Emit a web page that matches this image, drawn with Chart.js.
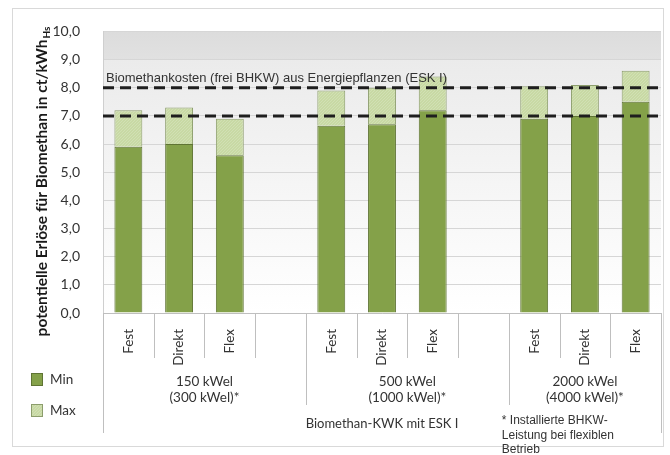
<!DOCTYPE html>
<html>
<head>
<meta charset="utf-8">
<script src="https://cdn.jsdelivr.net/npm/chart.js@4/dist/chart.umd.min.js"></script>
<style>
  html, body { margin: 0; padding: 0; background: #fff; }
  #wrap { width: 670px; height: 455px; }
</style>
</head>
<body>
<div id="wrap"><canvas id="chartErloese" width="670" height="455"></canvas></div>
<script>
// Daten
const kategorien = ["Fest", "Direkt", "Flex", "", "Fest", "Direkt", "Flex", "", "Fest", "Direkt", "Flex"];
const minWerte = [5.9, 6.0, 5.6, null, 6.65, 6.7, 7.2, null, 6.9, 7.0, 7.5];
const maxWerte = [7.2, 7.3, 6.9, null, 7.9, 8.0, 8.4, null, 8.05, 8.1, 8.6];
const gruppen = [
  { zeilen: ["150 kWel", "(300 kWel)*"], von: 0, bis: 3 },
  { zeilen: ["500 kWel", "(1000 kWel)*"], von: 4, bis: 7 },
  { zeilen: ["2000 kWel", "(4000 kWel)*"], von: 8, bis: 10 },
];
const kostenLinien = [7.0, 8.0];
const kostenText = "Biomethankosten (frei BHKW) aus Energiepflanzen (ESK I)";
const fussnote = ["* Installierte BHKW-", "Leistung bei flexiblen", "Betrieb"];
const obergruppe = "Biomethan-KWK mit ESK I";

const GRUEN = "#84a149";
const GRUEN_RAND = "#5f7434";
const HELL = "#c8d9a4";
const HELL_RAND = "#8c9d6c";

// Schraffur fuer Max (dezent)
const musterCanvas = document.createElement("canvas");
musterCanvas.width = 3;
musterCanvas.height = 3;
const mctx = musterCanvas.getContext("2d");
mctx.fillStyle = HELL;
mctx.fillRect(0, 0, 3, 3);
mctx.fillStyle = "#d1e0b4";
for (let i = 0; i < 3; i++) mctx.fillRect(i, 2 - i, 1, 1);
const muster = mctx.createPattern(musterCanvas, "repeat");

const canvas = document.getElementById("chartErloese");
const context = canvas.getContext("2d");

const grenze = (xs, i) => {
  const schritt = xs.getPixelForValue(1) - xs.getPixelForValue(0);
  return xs.getPixelForValue(0) + (i - 0.5) * schritt;
};

const hintergrund = {
  id: "hintergrund",
  beforeDraw(chart) {
    const { ctx, chartArea: a } = chart;
    ctx.save();
    ctx.fillStyle = "#fff";
    ctx.fillRect(0, 0, chart.width, chart.height);
    ctx.strokeStyle = "#d9d9d9";
    ctx.lineWidth = 1;
    ctx.strokeRect(12.5, 8.5, 651, 438);
    const g = ctx.createLinearGradient(0, a.top, 0, a.bottom);
    g.addColorStop(0, "#dcdcdc");
    g.addColorStop(0.1, "#e1e1e1");
    g.addColorStop(0.1, "#ebebeb");
    g.addColorStop(0.85, "#fcfcfc");
    g.addColorStop(1, "#ffffff");
    ctx.fillStyle = g;
    ctx.fillRect(a.left, a.top, a.right - a.left, a.bottom - a.top);
    ctx.restore();
  },
};

const beschriftung = {
  id: "beschriftung",
  afterDatasetsDraw(chart) {
    const { ctx, chartArea: a, scales } = chart;
    const xs = scales.x;
    const ys = scales.y;
    ctx.save();

    // gestrichelte Kostenlinien
    ctx.strokeStyle = "#1e1e1e";
    ctx.lineWidth = 3;
    ctx.setLineDash([11, 6]);
    kostenLinien.forEach((v) => {
      const y = ys.getPixelForValue(v);
      ctx.beginPath();
      ctx.moveTo(a.left, y);
      ctx.lineTo(a.right, y);
      ctx.stroke();
    });
    ctx.setLineDash([]);
    ctx.fillStyle = "#333";
    ctx.font = "13px 'Liberation Sans', Arial, sans-serif";
    ctx.textBaseline = "alphabetic";
    ctx.textAlign = "left";
    ctx.fillText(kostenText, a.left + 3, ys.getPixelForValue(8.0) - 6);

    // Trennlinien der Achse
    ctx.strokeStyle = "#bfbfbf";
    ctx.lineWidth = 1;
    for (let i = 0; i <= kategorien.length; i++) {
      let unten = a.bottom + 45;
      if (i === 0 || i === kategorien.length) unten = a.bottom + 120;
      else if (gruppen.some((g) => g.von === i)) unten = a.bottom + 92;
      const x = Math.round(grenze(xs, i)) + 0.5;
      ctx.beginPath();
      ctx.moveTo(x, a.bottom);
      ctx.lineTo(x, unten);
      ctx.stroke();
    }

    // Gruppenbeschriftung
    ctx.fillStyle = "#333";
    ctx.font = "13.5px Lato, sans-serif";
    ctx.textAlign = "center";
    ctx.textBaseline = "middle";
    gruppen.forEach((g) => {
      const mitte = (grenze(xs, g.von) + grenze(xs, g.bis + 1)) / 2;
      g.zeilen.forEach((z, k) => ctx.fillText(z, mitte, a.bottom + 69 + k * 16));
    });
    ctx.font = "13px Lato, sans-serif";
    ctx.fillText(obergruppe, (a.left + a.right) / 2, a.bottom + 111);

    // Fussnote
    ctx.font = "12px 'Liberation Sans', Arial, sans-serif";
    ctx.textAlign = "left";
    fussnote.forEach((z, k) => ctx.fillText(z, grenze(xs, 8) - 7, a.bottom + 108 + k * 14.5));

    // Legende
    const eintraege = [
      { text: "Min", fuell: GRUEN, rand: GRUEN_RAND, y: 373 },
      { text: "Max", fuell: muster, rand: HELL_RAND, y: 404 },
    ];
    ctx.font = "13.5px Lato, sans-serif";
    eintraege.forEach((e) => {
      ctx.fillStyle = e.fuell;
      ctx.fillRect(31, e.y, 12, 13);
      ctx.strokeStyle = e.rand;
      ctx.strokeRect(31.5, e.y + 0.5, 11, 12);
      ctx.fillStyle = "#333";
      ctx.fillText(e.text, 50, e.y + 7);
    });

    // Achsentitel mit Index
    ctx.translate(42, 182);
    ctx.rotate(-Math.PI / 2);
    const haupt = "potentielle Erlöse für Biomethan in ct/kWh";
    ctx.font = "bold 15.5px Lato, sans-serif";
    const w1 = ctx.measureText(haupt).width;
    ctx.font = "bold 10px Lato, sans-serif";
    const w2 = ctx.measureText("Hs").width;
    const start = -(w1 + w2) / 2;
    ctx.fillStyle = "#1a1a1a";
    ctx.textAlign = "left";
    ctx.textBaseline = "middle";
    ctx.font = "bold 15.5px Lato, sans-serif";
    ctx.fillText(haupt, start, 0);
    ctx.font = "bold 10px Lato, sans-serif";
    ctx.fillText("Hs", start + w1 + 1, 5);
    ctx.restore();
  },
};

const chartErloese = new Chart(context, {
  type: "bar",
  data: {
    labels: kategorien,
    datasets: [
      {
        label: "Min",
        data: minWerte,
        backgroundColor: GRUEN,
        borderColor: GRUEN_RAND,
        borderWidth: 1,
        grouped: false,
        barPercentage: 0.55,
        categoryPercentage: 1,
      },
      {
        label: "Max",
        data: maxWerte.map((v, i) => (v == null ? null : [minWerte[i], v])),
        backgroundColor: muster,
        borderColor: HELL_RAND,
        borderWidth: 1,
        grouped: false,
        barPercentage: 0.55,
        categoryPercentage: 1,
      },
    ],
  },
  options: {
    responsive: false,
    animation: false,
    layout: { padding: { top: 19, right: 9, left: 0, bottom: 0 } },
    plugins: {
      legend: { display: false },
      tooltip: { enabled: false },
    },
    scales: {
      x: {
        grid: { display: false },
        border: { display: true, color: "#bfbfbf" },
        ticks: {
          autoSkip: false,
          minRotation: 90,
          maxRotation: 90,
          padding: 8,
          color: "#333",
          font: { family: "Lato", size: 13.5 },
        },
        afterFit: (scale) => { scale.height = 142; },
      },
      y: {
        min: 0,
        max: 10,
        grid: { color: "#d6d6d6", drawTicks: false },
        border: { display: true, color: "#cfcfcf" },
        ticks: {
          stepSize: 1,
          padding: 23,
          color: "#333",
          font: { family: "Lato", size: 14 },
          callback: (v) => v.toFixed(1).replace(".", ","),
        },
        afterFit: (scale) => { scale.height; scale.width = 103; },
      },
    },
  },
  plugins: [hintergrund, beschriftung],
});
</script>
</body>
</html>
